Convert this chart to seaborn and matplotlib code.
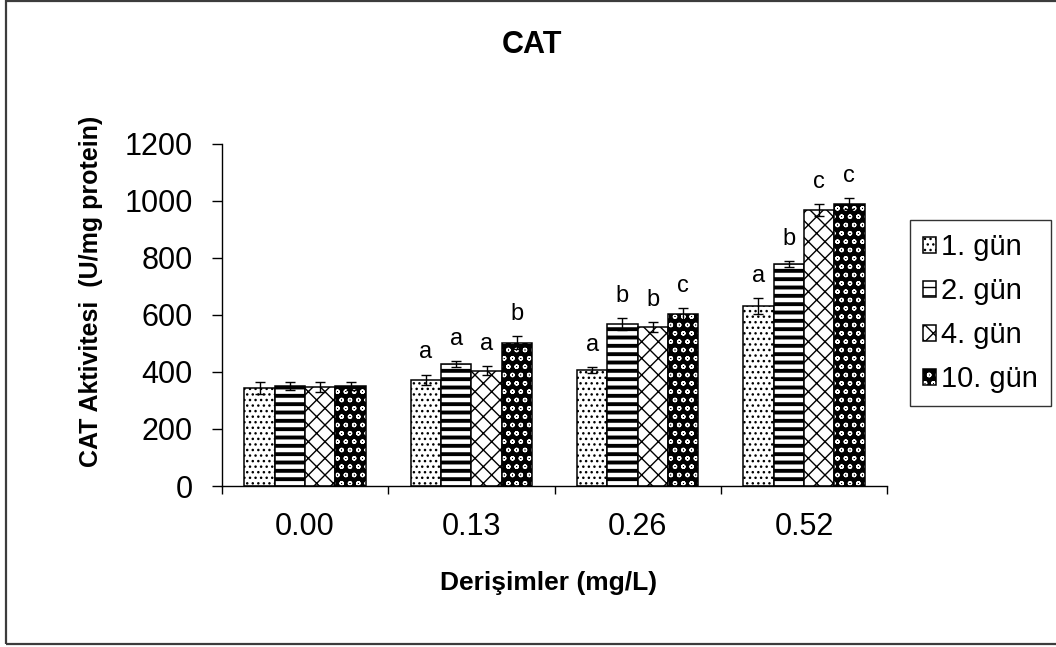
import matplotlib
matplotlib.use("Agg")
import matplotlib.pyplot as plt
from matplotlib.colors import to_rgba
from matplotlib.patches import Rectangle
import numpy as np
import pandas as pd
import seaborn as sns

# Concentrations (x categories) and sampling days (hue levels)
concentrations = ["0.00", "0.13", "0.26", "0.52"]
days = ["1. gün", "2. gün", "4. gün", "10. gün"]

# Mean CAT activity (U/mg protein) per day, across concentrations
day1 = [344, 372, 407, 632]
day2 = [351, 428, 568, 779]
day4 = [348, 404, 558, 968]
day10 = [350, 502, 603, 990]

# Standard errors
err1 = [20, 19, 10, 27]
err2 = [14, 10, 21, 9]
err4 = [17, 16, 18, 21]
err10 = [14, 23, 20, 19]

# Significance letters
let1 = ["", "a", "a", "a"]
let2 = ["", "a", "b", "b"]
let4 = ["", "a", "b", "c"]
let10 = ["", "b", "c", "c"]

means = [day1, day2, day4, day10]
errors = [err1, err2, err4, err10]
letters = [let1, let2, let4, let10]

sns.set_theme(style="white")
plt.rcParams["font.family"] = ["Liberation Sans", "DejaVu Sans"]
plt.rcParams["hatch.linewidth"] = 1.0
plt.rcParams["text.color"] = "black"
plt.rcParams["axes.labelcolor"] = "black"
plt.rcParams["xtick.color"] = "black"
plt.rcParams["ytick.color"] = "black"

rows = []
for d, vals in zip(days, means):
    for c, v in zip(concentrations, vals):
        rows.append({"Derişim": c, "Gün": d, "CAT": v})
df = pd.DataFrame(rows)

fig = plt.figure(figsize=(10.56, 6.47), dpi=100)
ax = fig.add_axes([222 / 1056, 1 - 486 / 647, 665 / 1056, 342 / 647])

sns.barplot(data=df, x="Derişim", y="CAT", hue="Gün", order=concentrations,
            hue_order=days, width=0.73, errorbar=None, palette=["white"] * 4,
            edgecolor="black", linewidth=1.1, legend=False, ax=ax, zorder=2)
bar_groups = list(ax.containers)

# Fill patterns per day
hatches = ["...", "--", "xx", "oo"]
for i, cont in enumerate(bar_groups):
    for p in cont:
        p.set_hatch(hatches[i])
        p.set_edgecolor("black")
        p.set_linewidth(1.1)
        if i == 1 and hasattr(p, "set_hatch_linewidth"):
            p.set_hatch_linewidth(2.8)
        if i == 3:
            p.set_facecolor("black")
            p._hatch_color = to_rgba("white")
            if hasattr(p, "set_hatch_linewidth"):
                p.set_hatch_linewidth(0.9)

# Error bars and significance letters
for i, cont in enumerate(bar_groups):
    xs = [p.get_x() + p.get_width() / 2 for p in cont]
    ax.errorbar(xs, means[i], yerr=errors[i], fmt="none", ecolor="black",
                elinewidth=1.0, capsize=3.6, capthick=1.0, zorder=3)
    for x, m, e, t in zip(xs, means[i], errors[i], letters[i]):
        if t:
            ax.annotate(t, xy=(x, m + e), xytext=(0, 8), textcoords="offset points",
                        ha="center", va="bottom", fontsize=17, color="black")

ax.set_ylim(0, 1200)
ax.set_xlim(-0.5, 3.5)
ax.set_yticks(np.arange(0, 1201, 200))
ax.set_xticks(np.arange(-0.5, 3.6, 1.0))
ax.set_xticklabels([])
ax.set_xticks(range(4), minor=True)
ax.set_xticklabels(concentrations, minor=True)
ax.tick_params(axis="x", which="major", direction="out", length=6, width=1, color="black", bottom=True)
ax.tick_params(axis="x", which="minor", length=0, pad=19, labelsize=22, labelcolor="black")
ax.tick_params(axis="y", direction="out", length=7, width=1, color="black", left=True,
               pad=14, labelsize=22, labelcolor="black")
ax.set_xlabel("")
ax.set_ylabel("")
for s in ["top", "right"]:
    ax.spines[s].set_visible(False)
for s in ["left", "bottom"]:
    ax.spines[s].set_color("black")
    ax.spines[s].set_linewidth(1.0)
ax.grid(False)

fig.text(532 / 1056, 1 - 45 / 647, "CAT", ha="center", va="center",
         fontsize=22, fontweight="bold", color="black")
fig.text(549 / 1056, 1 - 583 / 647, "Derişimler (mg/L)", ha="center", va="center",
         fontsize=19, fontweight="bold", color="black")
fig.text(91 / 1056, 1 - 291 / 647, "CAT Aktivitesi  (U/mg protein)", ha="center",
         va="center", rotation=90, fontsize=18, fontweight="bold", color="black")

handles = [cont[0] for cont in bar_groups]
leg = ax.legend(handles, days, loc="upper left",
                bbox_to_anchor=(910 / 1056, 1 - 220 / 647),
                bbox_transform=fig.transFigure, frameon=True, fancybox=False,
                fontsize=21, handlelength=0.45, handleheight=0.45,
                handletextpad=0.15, labelspacing=0.55, borderpad=0.45,
                borderaxespad=0)
leg.get_frame().set_edgecolor("black")
leg.get_frame().set_linewidth(1.0)
for t in leg.get_texts():
    t.set_color("black")

# Outer chart border
fig.patches.append(Rectangle((6 / 1056, 1 - 644 / 647), 1.2, 643 / 647,
                             transform=fig.transFigure, fill=False,
                             edgecolor="#3c3c3c", linewidth=1.6))

fig.savefig("out.png", dpi=100)
